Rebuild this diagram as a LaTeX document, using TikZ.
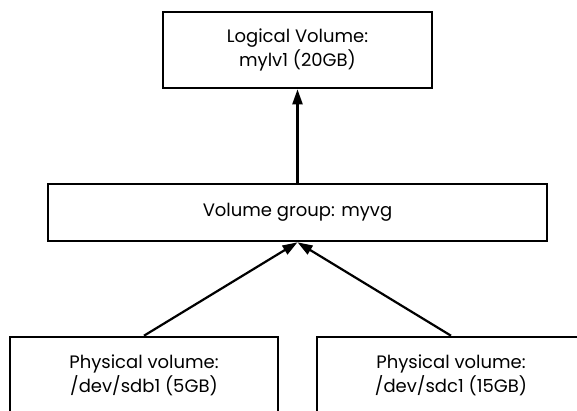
\documentclass[tikz,border=0pt]{standalone}
\usepackage{fontspec}
\setmainfont{Poppins}
\usetikzlibrary{arrows.meta}
\begin{document}
\begin{tikzpicture}[x=1pt,y=-1pt,
  box/.style={draw=black,line width=2.6pt,align=center,inner sep=0pt,font=\fontsize{18}{24}\selectfont},
  link/.style={line width=2.2pt,-{Triangle[length=15pt,width=10pt]}}]
\useasboundingbox (0,0) rectangle (577,410);
\clip (0,0) rectangle (577,410);
\node[box,minimum width=269pt,minimum height=76pt] (lv) at (297.5,50) {Logical Volume:\\mylv1 (20GB)};
\node[box,minimum width=499pt,minimum height=57pt] (vg) at (297.5,212.5) {Volume group: myvg};
\node[box,minimum width=268pt,minimum height=76pt] (pv1) at (144,375) {Physical volume:\\/dev/sdb1 (5GB)};
\node[box,minimum width=268pt,minimum height=76pt] (pv2) at (451,375) {Physical volume:\\/dev/sdc1 (15GB)};
\draw[link] (vg.north) -- (lv.south);
\draw[link] (pv1.north) -- (vg.south);
\draw[link] (pv2.north) -- (vg.south);
\end{tikzpicture}
\end{document}
